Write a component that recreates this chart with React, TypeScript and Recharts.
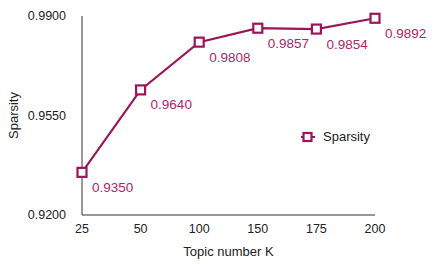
import React from 'react';
import { LineChart, Line, XAxis, YAxis, Legend, LabelList } from 'recharts';

const topicNumbers = ['25', '50', '100', '150', '175', '200'];
const sparsityValues = [0.935, 0.964, 0.9808, 0.9857, 0.9854, 0.9892];
const yTicks = [0.92, 0.955, 0.99];

const data = topicNumbers.map((k, i) => ({ k, sparsity: sparsityValues[i] }));

const LINE = '#9c1559';
const LABEL = '#b0256a';
const FONT = '"Liberation Sans", Arial, sans-serif';

const SquareDot = (props: any) => {
  const { cx, cy } = props;
  if (cx == null || cy == null) return null;
  return <rect x={cx - 4.5} y={cy - 4.5} width={9} height={9} fill="#fff" stroke={LINE} strokeWidth={2.2} />;
};

const ValueLabel = (props: any) => {
  const { x, y, value } = props;
  return (
    <text x={x + 10} y={y + 15} fill={LABEL} fontSize={13.5} fontFamily={FONT} textAnchor="start" dominantBaseline="central">
      {Number(value).toFixed(4)}
    </text>
  );
};

const LegendContent = () => (
  <div style={{ display: 'flex', alignItems: 'center', fontFamily: FONT, fontSize: 13, color: '#222' }}>
    <svg width={14} height={12} style={{ marginRight: 8 }}>
      <line x1={0} y1={6} x2={14} y2={6} stroke={LINE} strokeWidth={2} />
      <rect x={2.5} y={2} width={8} height={8} fill="#fff" stroke={LINE} strokeWidth={2.2} />
    </svg>
    <span>Sparsity</span>
  </div>
);

const App: React.FC = () => {
  return (
    <div style={{ position: 'absolute', left: 0, top: 0, background: '#fff' }}>
      <LineChart width={436} height={264} data={data} margin={{ top: 16, right: 61, bottom: 0, left: 0 }}>
        <XAxis
          dataKey="k"
          height={49}
          padding={{ left: 0, right: 0 }}
          tickLine={false}
          tickSize={0}
          tickMargin={9}
          stroke="#333"
          tick={{ fill: '#222', fontSize: 12.5, fontFamily: FONT }}
          label={{
            content: (p: any) => (
              <text x={p.viewBox.x + p.viewBox.width / 2} y={251} textAnchor="middle" dominantBaseline="central" fill="#222" fontSize={13} fontFamily={FONT}>
                Topic number K
              </text>
            ),
          }}
        />
        <YAxis
          width={82}
          domain={[0.92, 0.99]}
          ticks={yTicks}
          tickFormatter={(v: number) => v.toFixed(4)}
          tickLine={false}
          tickSize={0}
          tickMargin={16}
          stroke="#333"
          tick={{ fill: '#222', fontSize: 12.5, fontFamily: FONT }}
          label={{
            content: (p: any) => {
              const cx = p.viewBox.x + 13;
              const cy = p.viewBox.y + p.viewBox.height / 2;
              return (
                <text x={cx} y={cy} transform={`rotate(-90 ${cx} ${cy})`} textAnchor="middle" dominantBaseline="central" fill="#222" fontSize={13} fontFamily={FONT}>
                  Sparsity
                </text>
              );
            },
          }}
        />
        <Legend layout="vertical" align="center" verticalAlign="middle" content={LegendContent} wrapperStyle={{ left: 301, top: 129, width: 'auto' }} />
        <Line
          type="linear"
          dataKey="sparsity"
          name="Sparsity"
          stroke={LINE}
          strokeWidth={2.2}
          dot={<SquareDot />}
          activeDot={false}
          isAnimationActive={false}
        >
          <LabelList dataKey="sparsity" content={<ValueLabel />} />
        </Line>
      </LineChart>
    </div>
  );
};

export default App;
